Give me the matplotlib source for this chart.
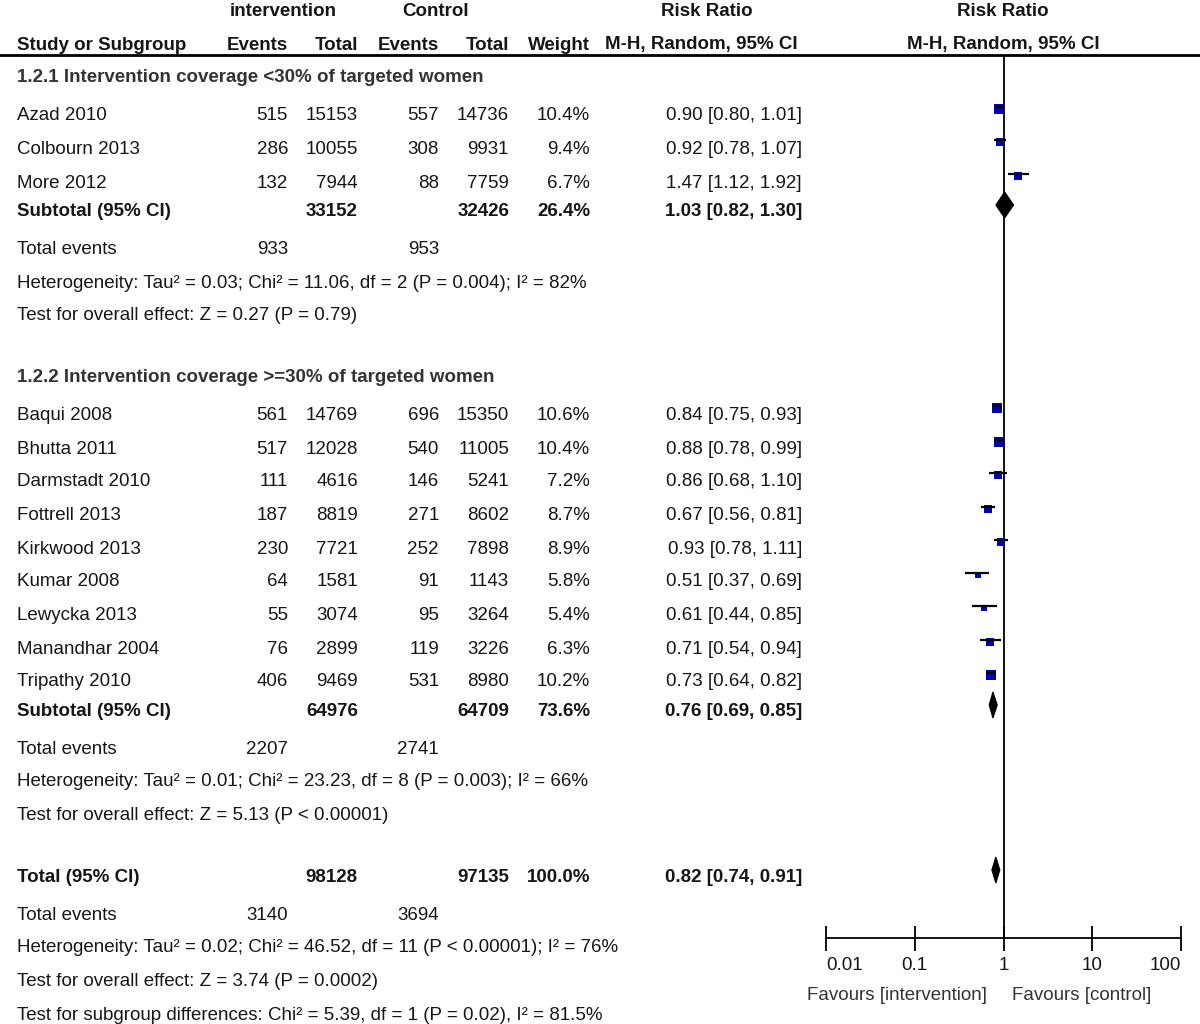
import matplotlib
matplotlib.use("Agg")
import matplotlib.pyplot as plt
from matplotlib.patches import Polygon

plt.rcParams['font.family'] = ['Liberation Sans', 'DejaVu Sans']

# ---------------- data ----------------
g1_title = "1.2.1 Intervention coverage <30% of targeted women"
g1_studies = ["Azad 2010", "Colbourn 2013", "More 2012"]
g1_ev_i = [515, 286, 132]
g1_tot_i = [15153, 10055, 7944]
g1_ev_c = [557, 308, 88]
g1_tot_c = [14736, 9931, 7759]
g1_weight = [10.4, 9.4, 6.7]
g1_rr = [0.90, 0.92, 1.47]
g1_lo = [0.80, 0.78, 1.12]
g1_hi = [1.01, 1.07, 1.92]
g1_sub = dict(tot_i=33152, tot_c=32426, weight=26.4, rr=1.03, lo=0.82, hi=1.30,
              ev_i=933, ev_c=953,
              het="Heterogeneity: Tau² = 0.03; Chi² = 11.06, df = 2 (P = 0.004); I² = 82%",
              test="Test for overall effect: Z = 0.27 (P = 0.79)")

g2_title = "1.2.2 Intervention coverage >=30% of targeted women"
g2_studies = ["Baqui 2008", "Bhutta 2011", "Darmstadt 2010", "Fottrell 2013", "Kirkwood 2013",
              "Kumar 2008", "Lewycka 2013", "Manandhar 2004", "Tripathy 2010"]
g2_ev_i = [561, 517, 111, 187, 230, 64, 55, 76, 406]
g2_tot_i = [14769, 12028, 4616, 8819, 7721, 1581, 3074, 2899, 9469]
g2_ev_c = [696, 540, 146, 271, 252, 91, 95, 119, 531]
g2_tot_c = [15350, 11005, 5241, 8602, 7898, 1143, 3264, 3226, 8980]
g2_weight = [10.6, 10.4, 7.2, 8.7, 8.9, 5.8, 5.4, 6.3, 10.2]
g2_rr = [0.84, 0.88, 0.86, 0.67, 0.93, 0.51, 0.61, 0.71, 0.73]
g2_lo = [0.75, 0.78, 0.68, 0.56, 0.78, 0.37, 0.44, 0.54, 0.64]
g2_hi = [0.93, 0.99, 1.10, 0.81, 1.11, 0.69, 0.85, 0.94, 0.82]
g2_sub = dict(tot_i=64976, tot_c=64709, weight=73.6, rr=0.76, lo=0.69, hi=0.85,
              ev_i=2207, ev_c=2741,
              het="Heterogeneity: Tau² = 0.01; Chi² = 23.23, df = 8 (P = 0.003); I² = 66%",
              test="Test for overall effect: Z = 5.13 (P < 0.00001)")

total = dict(tot_i=98128, tot_c=97135, weight=100.0, rr=0.82, lo=0.74, hi=0.91,
             ev_i=3140, ev_c=3694,
             het="Heterogeneity: Tau² = 0.02; Chi² = 46.52, df = 11 (P < 0.00001); I² = 76%",
             test="Test for overall effect: Z = 3.74 (P = 0.0002)",
             sub="Test for subgroup differences: Chi² = 5.39, df = 1 (P = 0.02), I² = 81.5%")

xticks = [0.01, 0.1, 1, 10, 100]
xticklabels = ["0.01", "0.1", "1", "10", "100"]

# ---------------- layout ----------------
W, H = 1200, 1024
FS = 13.5
TY = 2
X_NAME = 17
X_EVI, X_TOTI, X_EVC, X_TOTC, X_W, X_CI = 288, 358, 439, 509, 590, 802
PLOT_L, PLOT_R = 826, 1181
AX_TOP, AX_BOT = 55, 938
MARK_OFF = -7
TXT = '#161616'
BLUE = '#0000B4'

fig = plt.figure(figsize=(W / 100, H / 100), dpi=100)
ax = fig.add_axes([0, 0, 1, 1])
ax.set_xlim(0, W)
ax.set_ylim(H, 0)
ax.axis('off')

fax = fig.add_axes([PLOT_L / W, 1 - AX_BOT / H, (PLOT_R - PLOT_L) / W, (AX_BOT - AX_TOP) / H])
fax.set_xscale('log')
fax.set_xlim(0.01, 100)
fax.set_ylim(AX_BOT, AX_TOP)
fax.patch.set_alpha(0)
for s in ['left', 'right', 'top']:
    fax.spines[s].set_visible(False)
fax.spines['bottom'].set_linewidth(1.3)
fax.set_yticks([])
fax.set_xticks(xticks)
fax.set_xticklabels(xticklabels, fontsize=FS, color=TXT)
fax.minorticks_off()
fax.tick_params(axis='x', direction='inout', length=18, width=1.3, pad=5)
labs = fax.get_xticklabels()
labs[0].set_ha('left')
labs[-1].set_ha('right')
fax.axvline(1, color='black', lw=1.3)


def t(x, y, s, ha='left', bold=False, color=TXT):
    ax.text(x, y + TY, s, ha=ha, va='center', fontsize=FS, color=color,
            fontweight='bold' if bold else 'normal')


# headers
t(283, 10, "intervention", ha='center', bold=True)
t(436, 10, "Control", ha='center', bold=True)
t(707, 10, "Risk Ratio", ha='center', bold=True)
t(1003, 10, "Risk Ratio", ha='center', bold=True)
t(X_NAME, 43, "Study or Subgroup", bold=True)
t(X_EVI, 43, "Events", ha='right', bold=True)
t(X_TOTI, 43, "Total", ha='right', bold=True)
t(X_EVC, 43, "Events", ha='right', bold=True)
t(X_TOTC, 43, "Total", ha='right', bold=True)
t(X_W, 43, "Weight", ha='right', bold=True)
t(701, 43, "M-H, Random, 95% CI", ha='center', bold=True)
t(1003, 43, "M-H, Random, 95% CI", ha='center', bold=True)
ax.plot([0, W], [55, 55], color='black', lw=2)


def ci_text(rr, lo, hi):
    return f"{rr:.2f} [{lo:.2f}, {hi:.2f}]"


def draw_study(y, name, ei, ti, ec, tc, w, rr, lo, hi):
    t(X_NAME, y, name)
    t(X_EVI, y, str(ei), ha='right')
    t(X_TOTI, y, str(ti), ha='right')
    t(X_EVC, y, str(ec), ha='right')
    t(X_TOTC, y, str(tc), ha='right')
    t(X_W, y, f"{w:.1f}%", ha='right')
    t(X_CI, y, ci_text(rr, lo, hi), ha='right')
    ym = y + MARK_OFF
    fax.plot([lo, hi], [ym, ym], color='black', lw=1.6, solid_capstyle='butt', zorder=3)
    side = 2.9 * w ** 0.5
    fax.plot([rr], [ym + 2], marker='s', markersize=side * 0.72, color=BLUE, mec=BLUE,
             mew=0, zorder=2)


def draw_diamond(y, rr, lo, hi, h=26):
    yc = y - 5
    fax.add_patch(Polygon([(lo, yc), (rr, yc - h / 2), (hi, yc), (rr, yc + h / 2)],
                          closed=True, facecolor='black', edgecolor='black', lw=0.8))


def draw_summary(y, label, d):
    t(X_NAME, y, label, bold=True)
    t(X_TOTI, y, str(d['tot_i']), ha='right', bold=True)
    t(X_TOTC, y, str(d['tot_c']), ha='right', bold=True)
    t(X_W, y, f"{d['weight']:.1f}%", ha='right', bold=True)
    t(X_CI, y, ci_text(d['rr'], d['lo'], d['hi']), ha='right', bold=True)
    draw_diamond(y, d['rr'], d['lo'], d['hi'])


def draw_events(y, d):
    t(X_NAME, y, "Total events")
    t(X_EVI, y, str(d['ev_i']), ha='right')
    t(X_EVC, y, str(d['ev_c']), ha='right')


# group 1
t(X_NAME, 76, g1_title, bold=True, color='#333333')
ys1 = [114, 147, 181]
for i, y in enumerate(ys1):
    draw_study(y, g1_studies[i], g1_ev_i[i], g1_tot_i[i], g1_ev_c[i], g1_tot_c[i],
               g1_weight[i], g1_rr[i], g1_lo[i], g1_hi[i])
draw_summary(210, "Subtotal (95% CI)", g1_sub)
draw_events(247, g1_sub)
t(X_NAME, 281, g1_sub['het'])
t(X_NAME, 314, g1_sub['test'])

# group 2
t(X_NAME, 376, g2_title, bold=True, color='#333333')
ys2 = [413, 447, 480, 514, 547, 580, 613, 647, 680]
for i, y in enumerate(ys2):
    draw_study(y, g2_studies[i], g2_ev_i[i], g2_tot_i[i], g2_ev_c[i], g2_tot_c[i],
               g2_weight[i], g2_rr[i], g2_lo[i], g2_hi[i])
draw_summary(710, "Subtotal (95% CI)", g2_sub)
draw_events(747, g2_sub)
t(X_NAME, 780, g2_sub['het'])
t(X_NAME, 813, g2_sub['test'])

# total
draw_summary(875, "Total (95% CI)", total)
draw_events(913, total)
t(X_NAME, 946, total['het'])
t(X_NAME, 980, total['test'])
t(X_NAME, 1013, total['sub'])

t(897, 993, "Favours [intervention]", ha='center', color='#333333')
t(1082, 993, "Favours [control]", ha='center', color='#333333')

fig.savefig("out.png", dpi=100)
